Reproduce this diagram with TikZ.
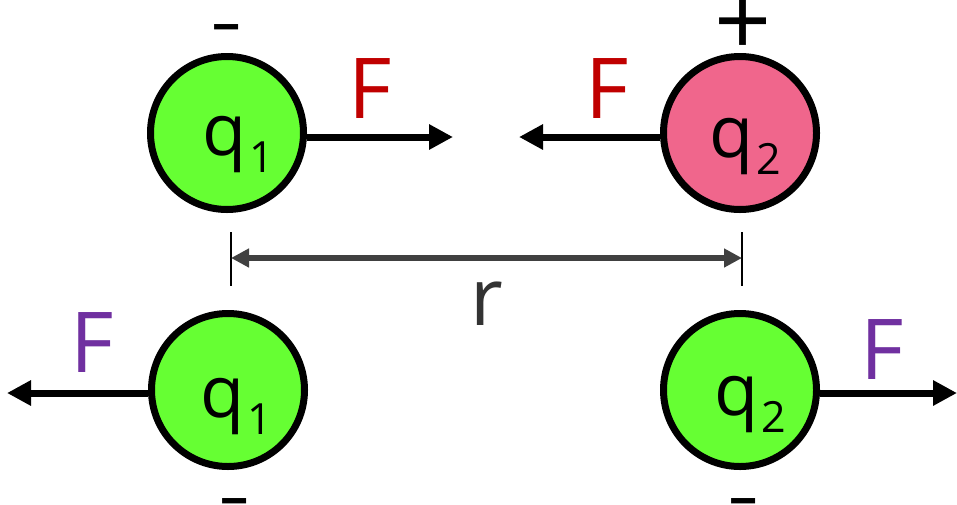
\documentclass[tikz,border=0pt]{standalone}
\usepackage{fontspec}
\setmainfont{Open Sans}
\usetikzlibrary{arrows.meta}
\definecolor{ggreen}{HTML}{66FF33}
\definecolor{gpink}{HTML}{F0668C}
\definecolor{fred}{HTML}{C00000}
\definecolor{fpurple}{HTML}{7030A0}
\definecolor{dgray}{HTML}{404040}
\newcommand{\qlabel}[1]{{\fontsize{72}{72}\selectfont q\hspace{3pt}\raisebox{-17pt}{\fontsize{43}{43}\selectfont #1}}}
\newcommand{\minussign}{\scalebox{1.25}[0.9]{-}}
\begin{document}
\begin{tikzpicture}[x=1pt,y=-1pt,
  charge/.style={circle, draw=black, line width=7pt, minimum size=153pt, inner sep=0pt},
  force/.style={line width=7pt, draw=black, -{Triangle[length=24pt,width=24pt]}},
  flabel/.style={anchor=base, inner sep=0pt, font=\fontsize{84}{84}\selectfont},
  qtext/.style={anchor=south, inner sep=0pt},
  sign/.style={anchor=base, inner sep=0pt, font=\fontsize{80}{80}\selectfont},
  tick/.style={line width=1.3pt, draw=black},
  dimarrow/.style={line width=6pt, draw=dgray, {Triangle[length=18pt,width=18pt]}-{Triangle[length=18pt,width=18pt]}}]
\useasboundingbox (0,0) rectangle (957,504);
% charges
\node[charge, fill=ggreen] (c1) at (227,133) {};
\node[charge, fill=gpink] (c2) at (740,133) {};
\node[charge, fill=ggreen] (c3) at (228,390) {};
\node[charge, fill=ggreen] (c4) at (740,390) {};
% labels in charges
\node[qtext] (l1) at (238,173) {\qlabel{1}};
\node[qtext] (l2) at (745,175) {\qlabel{2}};
\node[qtext] (l3) at (236,435) {\qlabel{1}};
\node[qtext] (l4) at (750,433) {\qlabel{2}};
% signs
\node[sign] (s1) at (227,46) {\minussign};
\node[sign, font=\fontsize{100}{100}\selectfont] (s2) at (743,56) {+};
\node[sign] (s3) at (235,520) {\minussign};
\node[sign] (s4) at (744,520) {\minussign};
% force arrows
\coordinate (t1) at (453,137);
\coordinate (t2) at (519,137);
\coordinate (t3) at (7,393);
\coordinate (t4) at (957,393);
\draw[force] (c1.east |- t1) -- (t1);
\draw[force] (c2.west |- t2) -- (t2);
\draw[force] (c3.west |- t3) -- (t3);
\draw[force] (c4.east |- t4) -- (t4);
% force labels
\node[flabel, text=fred] (f1) at (370,118) {F};
\node[flabel, text=fred] (f2) at (607,118) {F};
\node[flabel, text=fpurple] (f3) at (92,372) {F};
\node[flabel, text=fpurple] (f4) at (882,379) {F};
% distance
\coordinate (d1a) at (231,232);
\coordinate (d1b) at (231,286);
\coordinate (d2a) at (742,232);
\coordinate (d2b) at (742,286);
\draw[tick] (d1a) -- (d1b);
\draw[tick] (d2a) -- (d2b);
\coordinate (m1) at (231,258);
\coordinate (m2) at (742,258);
\draw[dimarrow] (m1) -- (m2);
\node[anchor=base, inner sep=0pt, text=dgray!80!black, font=\fontsize{80}{80}\selectfont] (r) at (487,325) {r};
\end{tikzpicture}
\end{document}
